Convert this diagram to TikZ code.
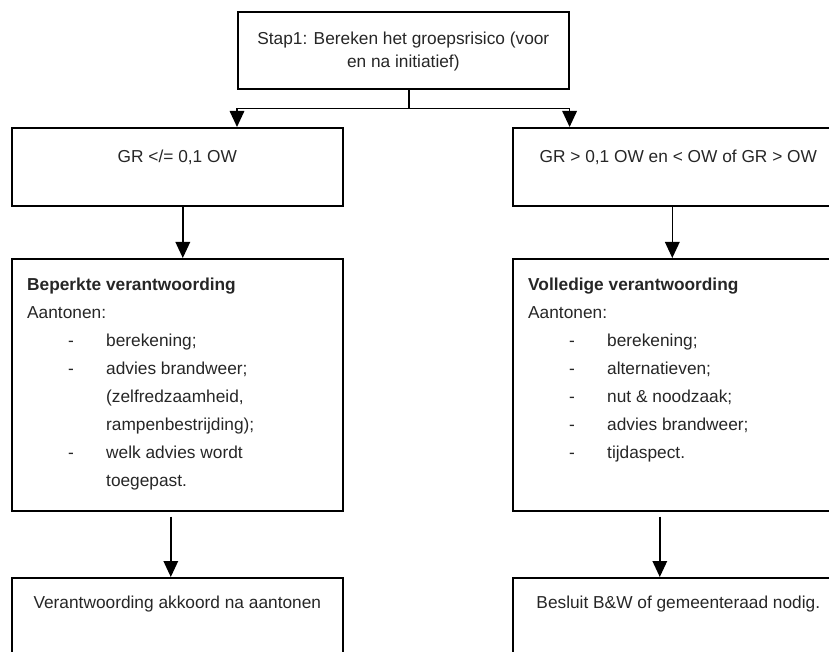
\documentclass[tikz,border=0pt]{standalone}
\usepackage{fontspec}
\setmainfont{Liberation Sans}
\usetikzlibrary{arrows.meta}

\begin{document}
\begin{tikzpicture}[x=1pt, y=1pt,
        kader/.style={draw, line width=1.6pt, rectangle, inner sep=0pt, anchor=north west, minimum width=331pt},
        tekst/.style={inner sep=0pt, text=black!85, font=\fontsize{17.3}{23}\selectfont},
        pijl/.style={line width=1.6pt, -{Triangle[width=14.5pt,length=16pt]}}]
        \clip (0,0) rectangle (829,-652); % page
\node[kader, minimum height=77pt] (stap) at (237,-11) {}; % stap1
\node[kader, minimum height=78pt] (laag) at (11,-127) {}; % GR laag
\node[kader, minimum height=78pt] (hoog) at (512,-127) {}; % GR hoog
\node[kader, minimum height=252pt] (beperkt) at (11,-258) {}; % beperkte verantwoording
\node[kader, minimum height=252pt] (volledig) at (512,-258) {}; % volledige verantwoording
\node[kader, minimum height=85pt] (akkoord) at (11,-577) {}; % akkoord
\node[kader, minimum height=85pt] (besluit) at (512,-577) {}; % besluit
\node[tekst, align=center, anchor=north] (staptekst) at ([yshift=-20.5]stap.north) {Stap1: Bereken het groepsrisico (voor\\en na initiatief)}; % stap1
\node[tekst, anchor=base] (laagtekst) at ([yshift=-36]laag.north) {GR </= 0,1 OW}; % GR laag
\node[tekst, anchor=base] (hoogtekst) at ([yshift=-36]hoog.north) {GR > 0,1 OW en < OW of GR > OW}; % GR hoog
\node[tekst, anchor=base] (akkoordtekst) at ([yshift=-31]akkoord.north) {Verantwoording akkoord na aantonen}; % akkoord
\node[tekst, anchor=base] (besluittekst) at ([yshift=-31]besluit.north) {Besluit B\&W of gemeenteraad nodig.}; % besluit
\node[tekst, anchor=base west] (bkop) at ([shift={(16,-32)}]beperkt.north west) {\textbf{Beperkte verantwoording}}; % beperkt
\node[tekst, anchor=base west] (baan) at ([yshift=-28]bkop.base west) {Aantonen:}; % beperkt
\foreach \streep/\regel [count=\i] in {-/berekening;, -/advies brandweer;, /{(zelfredzaamheid,}, /rampenbestrijding);, -/welk advies wordt, /toegepast.}
        \node[tekst, anchor=base west] (bregel\i) at ([shift={(41,-28*\i)}]baan.base west) {\makebox[38pt][l]{\streep}\regel}; % beperkt
\node[tekst, anchor=base west] (vkop) at ([shift={(16,-32)}]volledig.north west) {\textbf{Volledige verantwoording}}; % volledig
\node[tekst, anchor=base west] (vaan) at ([yshift=-28]vkop.base west) {Aantonen:}; % volledig
\foreach \regel [count=\i] in {berekening;, alternatieven;, nut \& noodzaak;, advies brandweer;, tijdaspect.}
        \node[tekst, anchor=base west] (vregel\i) at ([shift={(41,-28*\i)}]vaan.base west) {\makebox[38pt][l]{-}\regel}; % volledig
\coordinate (splits) at ([xshift=5.5,yshift=-19]stap.south); % splitsing
\draw[line width=1.6pt] (stap.south -| splits) -- (splits); % splitsing
\draw[pijl] (splits) -| (laag.north -| stap.south west); % naar laag
\draw[pijl] (splits) -| (hoog.north -| stap.south east); % naar hoog
\draw[pijl] ([xshift=5.5]laag.south) -- ([xshift=5.5]beperkt.north); % laag
\draw[pijl] ([xshift=-6]hoog.south) -- ([xshift=-6]volledig.north); % hoog
\draw[pijl] ([shift={(-6.5,-5)}]beperkt.south) -- ([xshift=-6.5]akkoord.north); % beperkt
\draw[pijl] ([shift={(-18.5,-5)}]volledig.south) -- ([xshift=-18.5]besluit.north); % volledig

        \end{tikzpicture}
\end{document}
